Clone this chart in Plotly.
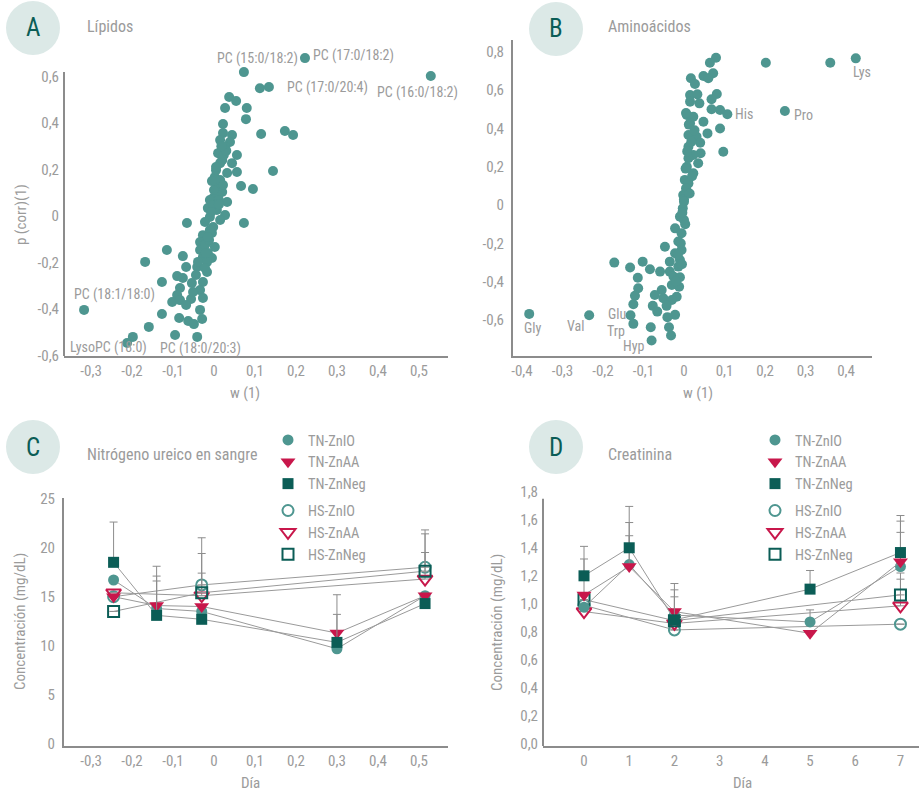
import plotly.graph_objects as go

W, H = 919, 795
FONT = "Liberation Sans Narrow, Roboto Condensed, DejaVu Sans Condensed, Arial Narrow, sans-serif"
GRAY = "#9b9b9b"
AXIS = "#8c8c8c"
LINE = "#9a9a9a"
TEAL = "#4e9690"
RED = "#c8174b"
DARK = "#0b5d56"
BADGE_BG = "#dce9e7"

# ---------------- Panel A: Lípidos ----------------
lip_w = [0.222, 0.073, 0.112, 0.134, 0.529, 0.037, 0.054, 0.027, 0.080, 0.078,
         0.022, 0.022, 0.044, 0.015, 0.039, 0.115, 0.173, 0.193, 0.027, 0.010,
         0.056, 0.020, 0.044, 0.015, 0.056, 0.144, 0.002, 0.032, 0.066, 0.095,
         0.007, 0.020, -0.002, 0.032, -0.010, -0.015, 0.007, 0.027, -0.010, 0.015,
         -0.066, 0.073, -0.022, -0.002, -0.027, -0.005, -0.034, -0.017, 0.002, -0.034,
         -0.015, -0.005, -0.027, -0.017, -0.115, -0.168, -0.076, -0.068, -0.041, -0.017,
         -0.127, -0.090, -0.076, -0.054, -0.027, -0.083, -0.034, -0.090, -0.102, -0.083,
         -0.056, -0.027, -0.034, -0.127, -0.085, -0.063, -0.049, -0.029, -0.159, -0.095,
         -0.041, -0.198, -0.212, -0.317,
         -0.002, 0.010, 0.015, 0.005, 0.024, 0.000, -0.010, -0.022, -0.039, -0.044,
         -0.022, -0.007, 0.012, 0.022, -0.012, -0.051, -0.068,
         0.005, -0.005, 0.012, -0.015, 0.030, -0.020, 0.018]
lip_p = [0.678, 0.618, 0.549, 0.554, 0.601, 0.511, 0.494, 0.464, 0.464, 0.416,
         0.395, 0.356, 0.348, 0.326, 0.318, 0.352, 0.365, 0.348, 0.296, 0.270,
         0.262, 0.240, 0.227, 0.227, 0.189, 0.193, 0.167, 0.185, 0.129, 0.116,
         0.133, 0.103, 0.077, 0.060, 0.069, 0.034, 0.026, 0.004, -0.004, -0.017,
         -0.030, -0.030, -0.026, -0.047, -0.082, -0.073, -0.112, -0.112, -0.133, -0.146,
         -0.159, -0.180, -0.176, -0.197, -0.146, -0.197, -0.172, -0.219, -0.219, -0.240,
         -0.283, -0.258, -0.266, -0.288, -0.283, -0.309, -0.318, -0.339, -0.369, -0.361,
         -0.356, -0.352, -0.403, -0.421, -0.438, -0.451, -0.464, -0.442, -0.476, -0.511,
         -0.519, -0.519, -0.545, -0.403,
         0.047, 0.090, 0.155, 0.197, 0.262, 0.112, -0.060, -0.124, -0.197, -0.253,
         -0.223, 0.017, 0.069, 0.133, -0.103, -0.326, -0.382,
         0.210, 0.150, 0.050, -0.090, 0.280, -0.160, 0.300]
lip_label_names = ["PC (17:0/18:2)", "PC (15:0/18:2)", "PC (17:0/20:4)", "PC (16:0/18:2)",
                   "PC (18:1/18:0)", "LysoPC (18:0)", "PC (18:0/20:3)"]
lip_label_index = [0, 1, 3, 4, 83, 82, 79]

# ---------------- Panel B: Aminoácidos ----------------
amino_w = [0.424, 0.361, 0.202, 0.249, 0.107, -0.382, -0.234, -0.132, -0.125, -0.080,
           0.079, 0.064, 0.048, 0.072, 0.060, 0.017, 0.027, 0.081, 0.068, 0.015,
           0.033, 0.015, 0.038, 0.068, 0.089, 0.007, 0.023, 0.048, 0.015, 0.089,
           0.058, 0.011, 0.031, 0.040, 0.011, 0.097, 0.041, 0.023, 0.011, 0.035,
           0.007, 0.023, 0.002, 0.011, 0.005, -0.002, 0.000,
           0.000, -0.003, -0.010, 0.000, -0.022, -0.006, -0.014, -0.047, -0.006, -0.022,
           -0.010, -0.035, -0.014, -0.172, -0.102, -0.133, -0.084, -0.059, -0.035, -0.026,
           -0.010, -0.114, -0.113, -0.055, -0.030, -0.012, -0.072, -0.121, -0.051, -0.018,
           -0.030, -0.125, -0.077, -0.043, -0.066, -0.022, -0.041, -0.082, -0.037, -0.032,
           0.005, 0.012, 0.018, 0.008, 0.020, 0.004, 0.014, 0.026, -0.004, 0.003,
           -0.008, -0.015, -0.020, -0.005]
amino_p = [0.766, 0.743, 0.743, 0.491, 0.474, -0.569, -0.576, -0.576, -0.621, -0.708,
           0.769, 0.743, 0.674, 0.688, 0.662, 0.662, 0.632, 0.580, 0.552, 0.574,
           0.578, 0.540, 0.531, 0.500, 0.496, 0.470, 0.461, 0.435, 0.427, 0.400,
           0.374, 0.366, 0.357, 0.325, 0.304, 0.278, 0.270, 0.261, 0.244, 0.218,
           0.200, 0.166, 0.131, 0.113, 0.087, 0.052, 0.030,
           0.017, -0.017, -0.061, -0.078, -0.122, -0.148, -0.191, -0.218, -0.235, -0.252,
           -0.287, -0.296, -0.322, -0.301, -0.296, -0.327, -0.336, -0.348, -0.348, -0.374,
           -0.378, -0.380, -0.435, -0.444, -0.418, -0.427, -0.470, -0.474, -0.487, -0.479,
           -0.496, -0.519, -0.527, -0.527, -0.557, -0.574, -0.586, -0.639, -0.639, -0.682,
           0.480, 0.420, 0.330, 0.280, 0.150, 0.190, 0.060, 0.390, -0.040, -0.100,
           -0.200, -0.260, -0.400, -0.310]
amino_label_names = ["Lys", "Pro", "His", "Gly", "Val", "Glu", "Trp", "Hyp"]
amino_label_index = [0, 3, 4, 5, 6, 7, 8, 9]

# ---------------- Panel C: Nitrógeno ureico en sangre ----------------
series_names = ["TN-ZnIO", "TN-ZnAA", "TN-ZnNeg", "HS-ZnIO", "HS-ZnAA", "HS-ZnNeg"]
days_c_tn = [-0.245, -0.14, -0.03, 0.30, 0.515]
days_c_hs = [-0.245, -0.03, 0.515]
bun_tn_znio = [16.7, 13.8, 13.5, 9.7, 15.1]
bun_tn_znaa = [15.0, 14.1, 14.0, 11.3, 15.1]
bun_tn_zneg = [18.5, 13.1, 12.7, 10.35, 14.3]
bun_hs_znio = [15.0, 16.2, 18.0]
bun_hs_znaa = [15.4, 15.1, 16.8]
bun_hs_zneg = [13.5, 15.4, 17.6]
bun_tn_znio_err = [None, 3.3, None, None, None]
bun_tn_znaa_err = [None, 4.0, None, 3.9, None]
bun_tn_zneg_err = [4.1, 3.5, None, 2.85, None]
bun_hs_znio_err = [None, 4.8, 3.8]
bun_hs_znaa_err = [None, 2.3, 2.7]
bun_hs_zneg_err = [None, 4.0, 3.8]

# ---------------- Panel D: Creatinina ----------------
days_d_tn = [0, 1, 2, 5, 7]
days_d_hs = [0, 2, 7]
cre_tn_znio = [0.976, 1.28, 0.92, 0.871, 1.266]
cre_tn_znaa = [1.064, 1.266, 0.945, 0.79, 1.30]
cre_tn_zneg = [1.20, 1.40, 0.886, 1.105, 1.366]
cre_hs_znio = [0.99, 0.814, 0.855]
cre_hs_znaa = [0.945, 0.86, 0.986]
cre_hs_zneg = [1.03, 0.88, 1.064]
cre_tn_znio_err = [None, 0.30, 0.18, 0.086, 0.244]
cre_tn_znaa_err = [0.256, 0.22, 0.20, None, 0.29]
cre_tn_zneg_err = [0.21, 0.295, 0.164, 0.133, 0.264]
cre_hs_znio_err = [None, None, None]
cre_hs_znaa_err = [None, None, 0.19]
cre_hs_zneg_err = [None, None, 0.156]

# ---------------- tick labels ----------------
ticks_a_x = [-0.3, -0.2, -0.1, 0, 0.1, 0.2, 0.3, 0.4, 0.5]
ticklabels_a_x = ["-0,3", "-0,2", "-0,1", "0", "0,1", "0,2", "0,3", "0,4", "0,5"]
ticks_a_y = [-0.6, -0.4, -0.2, 0, 0.2, 0.4, 0.6]
ticklabels_a_y = ["-0,6", "-0,4", "-0,2", "0", "0,2", "0,4", "0,6"]
ticks_b_x = [-0.4, -0.3, -0.2, -0.1, 0, 0.1, 0.2, 0.3, 0.4]
ticklabels_b_x = ["-0,4", "-0,3", "-0,2", "-0,1", "0", "0,1", "0,2", "0,3", "0,4"]
ticks_b_y = [-0.6, -0.4, -0.2, 0, 0.2, 0.4, 0.6, 0.8]
ticklabels_b_y = ["-0,6", "-0,4", "-0,2", "0", "0,2", "0,4", "0,6", "0,8"]
ticks_c_y = [0, 5, 10, 15, 20, 25]
ticks_d_x = [0, 1, 2, 3, 4, 5, 6, 7]
ticks_d_y = [0, 0.2, 0.4, 0.6, 0.8, 1.0, 1.2, 1.4, 1.6, 1.8]


def px(x):
    return x / W


def py(y):
    return 1 - y / H


fig = go.Figure()

# scatter panels
fig.add_trace(go.Scatter(x=lip_w, y=lip_p, mode="markers", xaxis="x", yaxis="y",
                         marker=dict(color=TEAL, size=10), showlegend=False, hoverinfo="skip"))
fig.add_trace(go.Scatter(x=amino_w, y=amino_p, mode="markers", xaxis="x2", yaxis="y2",
                         marker=dict(color=TEAL, size=10), showlegend=False, hoverinfo="skip"))

styles = [
    dict(symbol="circle", color=TEAL, size=11, line=dict(width=0)),
    dict(symbol="triangle-down", color=RED, size=13, line=dict(width=0)),
    dict(symbol="square", color=DARK, size=11, line=dict(width=0)),
    dict(symbol="circle-open", color=TEAL, size=11, line=dict(width=2, color=TEAL)),
    dict(symbol="triangle-down-open", color=RED, size=13, line=dict(width=2, color=RED)),
    dict(symbol="square-open", color=DARK, size=11, line=dict(width=2, color=DARK)),
]

bun_vals = [bun_tn_znio, bun_tn_znaa, bun_tn_zneg, bun_hs_znio, bun_hs_znaa, bun_hs_zneg]
bun_errs = [bun_tn_znio_err, bun_tn_znaa_err, bun_tn_zneg_err,
            bun_hs_znio_err, bun_hs_znaa_err, bun_hs_zneg_err]
cre_vals = [cre_tn_znio, cre_tn_znaa, cre_tn_zneg, cre_hs_znio, cre_hs_znaa, cre_hs_zneg]
cre_errs = [cre_tn_znio_err, cre_tn_znaa_err, cre_tn_zneg_err,
            cre_hs_znio_err, cre_hs_znaa_err, cre_hs_zneg_err]

order = [3, 4, 5, 0, 1, 2]
for i in order:
    xs = days_c_tn if i < 3 else days_c_hs
    fig.add_trace(go.Scatter(
        x=xs, y=bun_vals[i], mode="lines+markers", xaxis="x3", yaxis="y3",
        line=dict(color=LINE, width=1), marker=styles[i], showlegend=False,
        error_y=dict(type="data", symmetric=False, array=bun_errs[i],
                     arrayminus=[None] * len(xs), color=AXIS, thickness=1, width=4),
        hoverinfo="skip"))
for i in order:
    xs = days_d_tn if i < 3 else days_d_hs
    fig.add_trace(go.Scatter(
        x=xs, y=cre_vals[i], mode="lines+markers", xaxis="x4", yaxis="y4",
        line=dict(color=LINE, width=1), marker=styles[i], showlegend=False,
        error_y=dict(type="data", symmetric=False, array=cre_errs[i],
                     arrayminus=[None] * len(xs), color=AXIS, thickness=1, width=4),
        hoverinfo="skip"))

# legend-only traces
for leg, xa, ya in (("legend", "x3", "y3"), ("legend2", "x4", "y4")):
    for i, name in enumerate(series_names):
        fig.add_trace(go.Scatter(
            x=[None], y=[None], mode="markers", name=name, xaxis=xa, yaxis=ya,
            marker=styles[i], legend=leg, legendgroup=("TN" if i < 3 else "HS") + leg,
            showlegend=True))

tickfont = dict(family=FONT, size=15, color=GRAY)
ax_common = dict(showgrid=False, zeroline=False, showline=True, linecolor=AXIS, linewidth=2,
                 ticks="", tickfont=tickfont, fixedrange=True, automargin=False,
                 tickmode="array")

legend_common = dict(font=dict(family=FONT, size=14.5, color=GRAY), bgcolor="rgba(0,0,0,0)",
                     tracegroupgap=5, traceorder="grouped", itemwidth=30,
                     xanchor="left", yanchor="top", borderwidth=0)

fig.update_layout(
    width=W, height=H, margin=dict(l=0, r=0, t=0, b=0, pad=0, autoexpand=False),
    paper_bgcolor="white", plot_bgcolor="white",
    separators=", ",
    font=dict(family=FONT, color=GRAY),
    xaxis=dict(domain=[px(64), px(448)], range=[-0.366, 0.571], anchor="y",
               tickvals=ticks_a_x, ticktext=ticklabels_a_x, **ax_common),
    yaxis=dict(domain=[py(356), py(53)], range=[-0.601, 0.70], anchor="x",
               tickvals=ticks_a_y, ticktext=ticklabels_a_y, ticklabelstandoff=4, **ax_common),
    xaxis2=dict(domain=[px(513), px(872)], range=[-0.422, 0.464], anchor="y2",
                tickvals=ticks_b_x, ticktext=ticklabels_b_x, **ax_common),
    yaxis2=dict(domain=[py(356), py(40)], range=[-0.789, 0.862], anchor="x2",
                tickvals=ticks_b_y, ticktext=ticklabels_b_y, ticklabelstandoff=4, **ax_common),
    xaxis3=dict(domain=[px(64), px(448)], range=[-0.366, 0.571], anchor="y3",
                tickvals=ticks_a_x, ticktext=ticklabels_a_x, **ax_common),
    yaxis3=dict(domain=[py(746), py(498)], range=[-0.2, 25.05], anchor="x3",
                tickvals=ticks_c_y, ticklabelstandoff=4, **ax_common),
    xaxis4=dict(domain=[px(543), 1.0], range=[-0.907, 7.41], anchor="y4",
                tickvals=ticks_d_x, **ax_common),
    yaxis4=dict(domain=[py(746), py(491)], range=[-0.014, 1.805], anchor="x4",
                tickvals=ticks_d_y, tickformat=".1f", ticklabelstandoff=4, **ax_common),
    legend=dict(x=px(268), y=py(424), **legend_common),
    legend2=dict(x=px(755), y=py(424), **legend_common),
)
fig.update_layout(yaxis=dict(showline=False), yaxis4=dict(showline=False))

shapes = []
# partial y-axis lines (axis line stops below the extended range)
shapes.append(dict(type="line", xref="x domain", yref="y", x0=0, x1=0, y0=-0.601, y1=0.618,
                   line=dict(color=AXIS, width=2)))
shapes.append(dict(type="line", xref="x4 domain", yref="y4", x0=0, x1=0, y0=-0.014, y1=1.75,
                   line=dict(color=AXIS, width=2)))
# badges
annotations = []
badges = [("A", 33, 28), ("B", 556, 29), ("C", 33, 447), ("D", 556, 447)]
for letter, cx, cy in badges:
    r = 27
    shapes.append(dict(type="circle", xref="paper", yref="paper",
                       x0=px(cx - r), x1=px(cx + r), y0=py(cy + r), y1=py(cy - r),
                       fillcolor=BADGE_BG, line=dict(width=0), layer="below"))
    annotations.append(dict(text=letter, x=px(cx), y=py(cy), xref="paper", yref="paper",
                            showarrow=False, xanchor="center", yanchor="middle",
                            font=dict(family=FONT, size=25, color=DARK)))

titles = [("Lípidos", 85, 27), ("Aminoácidos", 606, 27),
          ("Nitrógeno ureico en sangre", 85, 454), ("Creatinina", 606, 454)]
for t, x, y in titles:
    annotations.append(dict(text=t, x=px(x), y=py(y), xref="paper", yref="paper",
                            showarrow=False, xanchor="left", yanchor="middle",
                            font=dict(family=FONT, size=16, color=GRAY)))

axis_titles = [("w (1)", 245, 393, 0), ("w (1)", 698, 393, 0), ("Día", 250, 783, 0),
               ("Día", 742, 783, 0), ("p (corr)(1)", 21, 215, -90),
               ("Concentración (mg/dL)", 20, 622, -90), ("Concentración (mg/dL)", 497, 622, -90)]
for t, x, y, ang in axis_titles:
    annotations.append(dict(text=t, x=px(x), y=py(y), xref="paper", yref="paper",
                            showarrow=False, xanchor="center", yanchor="middle", textangle=ang,
                            font=dict(family=FONT, size=15, color=GRAY)))

lip_label_style = [("left", 6, 3), ("right", 56, 14), ("left", 16, -1), ("right", 29, -16),
                   ("left", -12, 15), ("left", -59, -5), ("left", -17, -13)]
for name, idx, (anc, dx, dy) in zip(lip_label_names, lip_label_index, lip_label_style):
    annotations.append(dict(text=name, x=lip_w[idx], y=lip_p[idx], xref="x", yref="y",
                            showarrow=False, xanchor=anc, yanchor="middle", xshift=dx, yshift=dy,
                            font=dict(family=FONT, size=14, color=GRAY)))

amino_label_style = [("left", -5, -14), ("left", 7, -4), ("left", 6, 0), ("center", 3, -14),
                     ("center", -14, -11), ("right", -3, 1), ("center", -17, -7),
                     ("center", -18, -5)]
for name, idx, (anc, dx, dy) in zip(amino_label_names, amino_label_index, amino_label_style):
    annotations.append(dict(text=name, x=amino_w[idx], y=amino_p[idx], xref="x2", yref="y2",
                            showarrow=False, xanchor=anc, yanchor="middle", xshift=dx, yshift=dy,
                            font=dict(family=FONT, size=14, color=GRAY)))

fig.update_layout(shapes=shapes, annotations=annotations)
# remove the browser's default 8px page margin so the figure sits at the window origin
fig.write_html("out.html", config={"displayModeBar": False},
               post_script="document.body.style.margin='0px';")
